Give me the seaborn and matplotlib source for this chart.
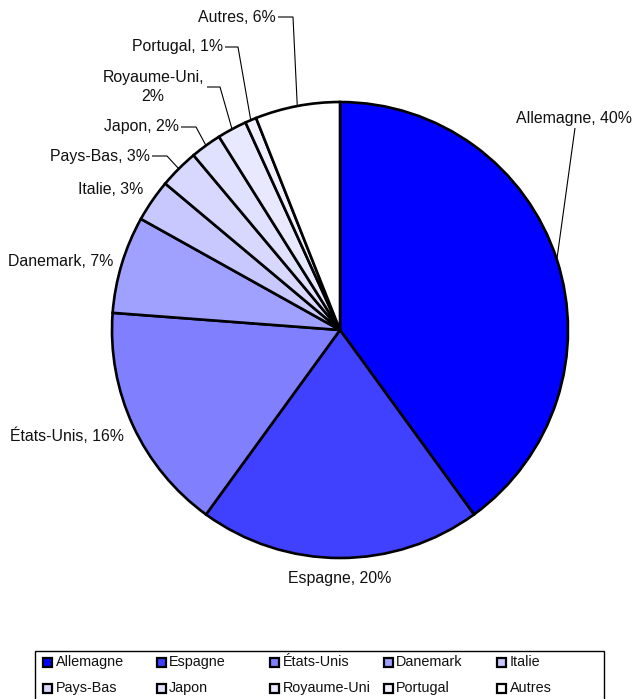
import numpy as np
import matplotlib
matplotlib.use("Agg")
import matplotlib.pyplot as plt
from matplotlib.patches import Rectangle
import seaborn as sns

# ---- data ----
pays = ["Allemagne", "Espagne", "États-Unis", "Danemark", "Italie",
        "Pays-Bas", "Japon", "Royaume-Uni", "Portugal", "Autres"]
parts = [40.0, 20.0, 16.2, 6.9, 3.0, 2.8, 2.2, 2.1, 0.8, 6.0]
couleurs = ["#0000FF", "#4040FF", "#8080FF", "#A0A0FF", "#C8C8FF",
            "#D8D8FF", "#E0E0FF", "#E8E8FF", "#F0F0FF", "#FFFFFF"]

# ---- layout (pixel coordinates, y downward) ----
W, H = 634, 699
CX, CY, R = 340, 330, 228
label_layout = {
    "Allemagne":   dict(xy=(574.5, 118), ha="center", line=[(575, 128)]),
    "Espagne":     dict(xy=(340, 578), ha="center", line=None),
    "États-Unis":  dict(xy=(124, 436), ha="right", line=None),
    "Danemark":    dict(xy=(113, 262), ha="right", line=None),
    "Italie":      dict(xy=(143, 190), ha="right", line=None),
    "Pays-Bas":    dict(xy=(150, 156), ha="right", line=[(152, 156), (167, 156)]),
    "Japon":       dict(xy=(179, 127), ha="right", line=[(181, 127), (196, 127)]),
    "Royaume-Uni": dict(xy=(153, 87), ha="center", line=[(207, 87), (220, 87)]),
    "Portugal":    dict(xy=(223, 47), ha="right", line=[(225, 47), (238, 47)]),
    "Autres":      dict(xy=(276, 17), ha="right", line=[(278, 17), (293, 17)]),
}
wrap = {"Royaume-Uni"}

sns.set_theme(style="white")
plt.rcParams["font.family"] = ["Liberation Sans", "DejaVu Sans"]

fig = plt.figure(figsize=(W / 100, H / 100), dpi=100)
fig.patch.set_facecolor("white")
ax = fig.add_axes([0, 0, 1, 1])

def Y(y):
    return H - y

wedges, _ = ax.pie(parts, colors=couleurs, startangle=90, counterclock=False,
                   center=(CX, Y(CY)), radius=R, frame=False,
                   wedgeprops=dict(edgecolor="black", linewidth=1.9))
ax.set_xlim(0, W)
ax.set_ylim(0, H)
ax.set_aspect("auto")
ax.axis("off")

LABEL_FS = 11.4
for w, name, p in zip(wedges, pays, parts):
    lay = label_layout[name]
    sep = ",\n" if name in wrap else ", "
    txt = f"{name}{sep}{round(p)}%"
    x, y = lay["xy"]
    ax.text(x, Y(y), txt, ha=lay["ha"], va="center", fontsize=LABEL_FS,
            color="#111111", multialignment="center", linespacing=1.32)
    if lay["line"]:
        mid = np.deg2rad((w.theta1 + w.theta2) / 2)
        ex = CX + R * np.cos(mid)
        ey = Y(CY) + R * np.sin(mid)
        pts = [(px, Y(py)) for px, py in lay["line"]] + [(ex, ey)]
        xs, ys = zip(*pts)
        ax.plot(xs, ys, color="black", lw=0.8, solid_capstyle="butt")

# ---- legend (5 columns, row-major) ----
LEG_FS = 10.4
ax.add_patch(Rectangle((35, Y(705)), 604 - 35, 705 - 651, facecolor="white",
                       edgecolor="black", lw=1.0, clip_on=False))
col_x = [43 + i * 113.5 for i in range(5)]
row_y = [662, 688]
for i, (name, c) in enumerate(zip(pays, couleurs)):
    r, k = divmod(i, 5)
    mx, my = col_x[k], row_y[r]
    ax.add_patch(Rectangle((mx, Y(my) - 4.5), 9, 9, facecolor=c,
                           edgecolor="black", lw=1.6))
    ax.text(mx + 12.5, Y(my), name, ha="left", va="center",
            fontsize=LEG_FS, color="#111111")

fig.savefig("out.png", dpi=100, facecolor="white")
